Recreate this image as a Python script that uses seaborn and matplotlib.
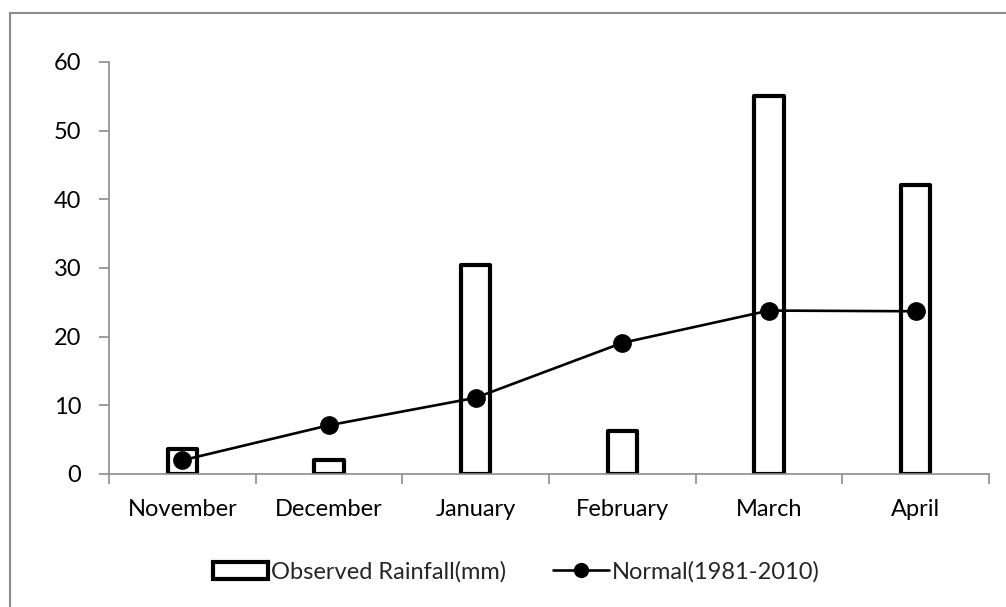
import matplotlib
matplotlib.use("Agg")
import matplotlib.pyplot as plt
from matplotlib.patches import Rectangle
from matplotlib.lines import Line2D
import seaborn as sns
import pandas as pd

months = ["November", "December", "January", "February", "March", "April"]
observed = [3.7, 2.0, 30.5, 6.3, 55.1, 42.1]
normal = [2.0, 7.1, 11.1, 19.1, 23.8, 23.7]
y_ticks = [0, 10, 20, 30, 40, 50, 60]

sns.set_theme(style="white")
plt.rcParams["font.family"] = ["Lato", "DejaVu Sans"]
FS = 17

W, H = 1006, 607
fig = plt.figure(figsize=(W / 100, H / 100), dpi=100)
ax = fig.add_axes([109 / W, (H - 474) / H, 880 / W, 412 / H])

df = pd.DataFrame({"month": months, "observed": observed, "normal": normal})

sns.barplot(data=df, x="month", y="observed", order=months, ax=ax,
            color="white", edgecolor="black", linewidth=3.0, width=0.2,
            zorder=2)
for p in ax.patches:
    p.set_joinstyle("round")

sns.lineplot(data=df, x="month", y="normal", ax=ax, color="black",
             linewidth=1.9, marker="o", markersize=13.5, markeredgewidth=0,
             zorder=3, sort=False)

ax.set_ylim(0, 60)
ax.set_xlim(-0.5, len(months) - 0.5)
ax.set_yticks(y_ticks)
ax.set_xlabel("")
ax.set_ylabel("")

# category separators as x ticks, month names centred between them
ax.set_xticks([i - 0.5 for i in range(len(months) + 1)], minor=False)
ax.set_xticklabels([])
ax.set_xticks(range(len(months)), minor=True)
ax.set_xticklabels(months, minor=True)
ax.tick_params(axis="x", which="major", direction="out", length=7,
               width=1.2, color="#8c8c8c", bottom=True)
ax.tick_params(axis="x", which="minor", length=0, pad=18, labelsize=FS,
               labelcolor="black")
ax.tick_params(axis="y", direction="out", length=7, width=1.2,
               color="#8c8c8c", left=True, pad=13, labelsize=FS,
               labelcolor="black")

for s in ["top", "right"]:
    ax.spines[s].set_visible(False)
for s in ["left", "bottom"]:
    ax.spines[s].set_color("#8c8c8c")
    ax.spines[s].set_linewidth(1.2)
ax.grid(False)

handles = [
    Rectangle((0, 0), 1, 1, facecolor="white", edgecolor="black",
              linewidth=3.0, joinstyle="round"),
    Line2D([], [], color="black", linewidth=1.9, marker="o", markersize=11,
           markeredgewidth=0),
]
fig.legend(handles, ["Observed Rainfall(mm)", "Normal(1981-2010)"],
           loc="center", bbox_to_anchor=(516 / W, (H - 572) / H), ncol=2,
           frameon=False, fontsize=FS, handlelength=2.35, handleheight=0.75,
           handletextpad=0.12, columnspacing=2.0)

# chart border
fig.patches.append(Rectangle((10 / W, -0.05), 1.2, (H - 13) / H + 0.05,
                             transform=fig.transFigure, fill=False,
                             edgecolor="#8c8c8c", linewidth=1.5))

fig.savefig("out.png", dpi=100, facecolor="white")
